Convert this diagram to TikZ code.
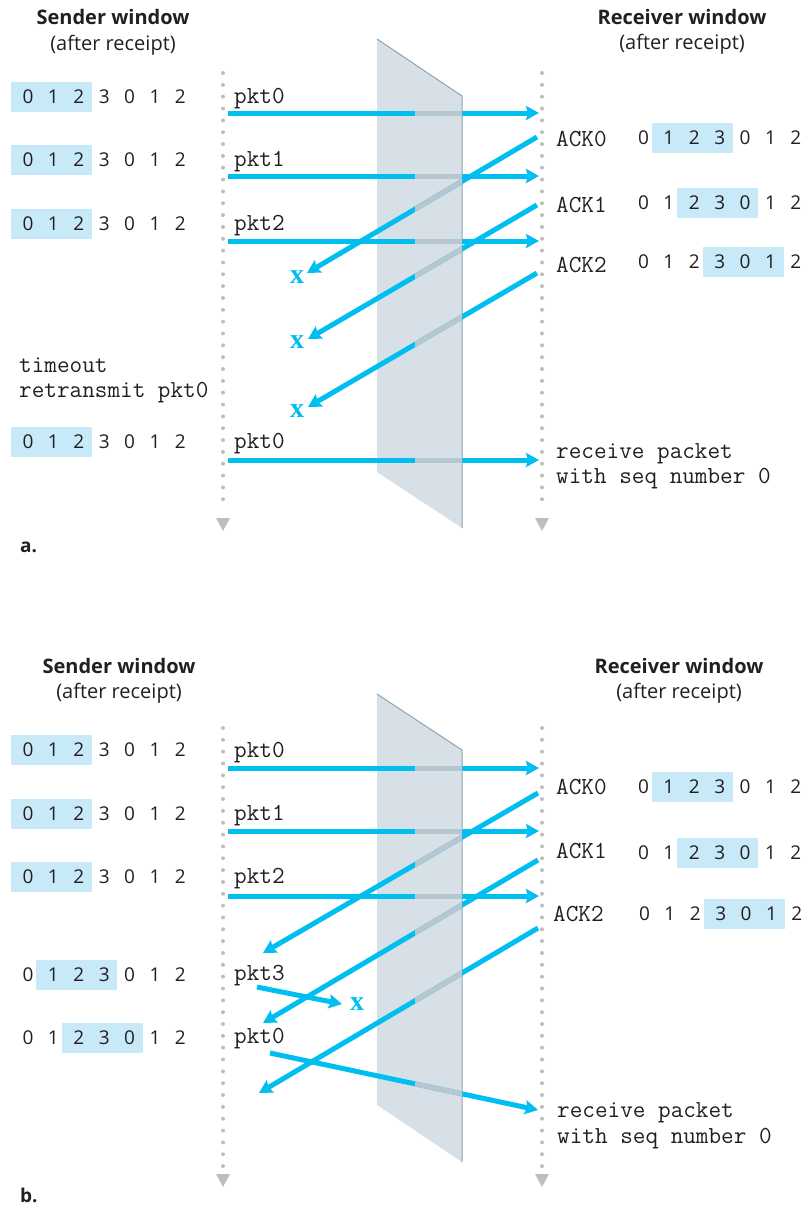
\documentclass[tikz,border=0pt]{standalone}
\usepackage{fontspec}
\setmainfont{Open Sans}
\newfontfamily\lostfont{Liberation Serif}
\usetikzlibrary{arrows.meta}

\definecolor{pktblue}{RGB}{0,190,240}
\definecolor{winblue}{RGB}{200,233,248}
\definecolor{slabfill}{RGB}{216,224,231}
\definecolor{slabedge}{RGB}{140,165,180}
\definecolor{slabline}{RGB}{183,199,207}
\definecolor{lifegray}{RGB}{190,190,190}
\definecolor{ink}{RGB}{35,31,32}

\tikzset{
  msg/.style={draw=pktblue, line width=5pt, -{Stealth[length=13pt,width=14pt,inset=2pt]}},
  msgslab/.style={draw=slabline, line width=5pt},
  life/.style={draw=lifegray, line width=4pt, line cap=round, dash pattern=on 0pt off 11.84pt},
  code/.style={font=\ttfamily\fontsize{24.5}{26}\selectfont, text=ink, inner sep=0pt, anchor=base west},
  digit/.style={font=\fontsize{19}{19}\selectfont, text=ink, inner sep=0pt, anchor=base},
  head/.style={font=\bfseries\fontsize{20}{24}\selectfont, text=ink, inner sep=0pt, anchor=base},
  sub/.style={font=\fontsize{20}{24}\selectfont, text=ink, inner sep=0pt, anchor=base},
  lost/.style={font=\lostfont\bfseries\fontsize{28}{28}\selectfont, text=pktblue, inner sep=0pt, anchor=base},
  tag/.style={font=\bfseries\fontsize{19}{19}\selectfont, text=ink, inner sep=0pt, anchor=base west}
}

% window of seven numbers, three of them shaded
\newcommand\winrow[4]{%
  \fill[winblue] ({#1+(#3)*25.4-17},{#2-15}) rectangle ++(81,30);
  \foreach \d [count=\i from 0] in {0,1,2,3,0,1,2}
    \node[digit] (#4-\i) at ({#1+\i*25.4},{#2+6.5}) {\d};
}
% message with the part that runs through the channel
\newcommand\sendmsg[2]{%
  \draw[msg] (#1) -- (#2);
  \begin{scope}
    \clip (415,0) rectangle (462,1213);
    \draw[msgslab] (#1) -- (#2);
  \end{scope}
}
% dotted time line of one side
\newcommand\lifeline[4]{%
  \coordinate (#4 top) at (#1,#2);
  \coordinate (#4 bot) at (#1,#3);
  \draw[life] (#4 top) -- (#4 bot);
  \fill[lifegray] ({#1-7},{#3+7}) -- ({#1+7},{#3+7}) -- (#1,{#3+20}) -- cycle;
}

\begin{document}
\begin{tikzpicture}[x=1pt, y=-1pt]
    \useasboundingbox (0,0) rectangle (807,1213);

    % a. panel
    \fill[slabfill] (377,39) -- (462,96) -- (462,528) -- (377,472) -- cycle;
    \draw[slabedge, line width=1pt] (377,39) -- (462,96) -- (462,528);
    \lifeline{223}{73}{511}{sa}
    \lifeline{542}{73}{511}{ra}

    \node[head] (sw a) at (113,24) {Sender window};
    \node[sub] (ss a) at (113,50) {(after receipt)};
    \node[head] (rw a) at (682,24) {Receiver window};
    \node[sub] (rs a) at (682,49) {(after receipt)};

    \winrow{28}{97}{0}{sa1}
    \winrow{28}{160}{0}{sa2}
    \winrow{28}{224}{0}{sa3}
    \winrow{28}{442}{0}{sa4}
    \winrow{643.5}{138}{1}{ra1}
    \winrow{643.5}{203}{2}{ra2}
    \winrow{643.5}{262}{3}{ra3}

    \node[code] (pa0) at (234,103) {pkt0};
    \node[code] (pa1) at (234,166) {pkt1};
    \node[code] (pa2) at (234,230) {pkt2};
    \node[code] (pa3) at (234,448) {pkt0};
    \node[code] (to a) at (19,372) {timeout};
    \node[code] (rt a) at (19,397) {retransmit pkt0};
    \node[code] (ka0) at (556,146) {ACK0};
    \node[code] (ka1) at (556,212) {ACK1};
    \node[code] (ka2) at (556,272) {ACK2};
    \node[code] (rp a) at (556,458) {receive packet};
    \node[code] (sq a) at (556,483) {with seq number 0};

    \coordinate (pa0 s) at (228,113); \coordinate (pa0 e) at (539,113);
    \coordinate (pa1 s) at (228,176); \coordinate (pa1 e) at (539,176);
    \coordinate (pa2 s) at (228,241); \coordinate (pa2 e) at (539,241);
    \coordinate (pa3 s) at (228,460); \coordinate (pa3 e) at (539,460);
    \coordinate (ka0 s) at (537,137); \coordinate (ka0 e) at (307,273);
    \coordinate (ka1 s) at (537,205); \coordinate (ka1 e) at (308,339);
    \coordinate (ka2 s) at (537,273); \coordinate (ka2 e) at (308,407);
    \sendmsg{pa0 s}{pa0 e}
    \sendmsg{pa1 s}{pa1 e}
    \sendmsg{pa2 s}{pa2 e}
    \sendmsg{pa3 s}{pa3 e}
    \sendmsg{ka0 s}{ka0 e}
    \sendmsg{ka1 s}{ka1 e}
    \sendmsg{ka2 s}{ka2 e}
    \node[lost] (xa0) at (297,283) {x};
    \node[lost] (xa1) at (297,348) {x};
    \node[lost] (xa2) at (297,417) {x};

    \node[tag] (tag a) at (20,552) {a.};

    % b. panel
    \fill[slabfill] (377,694) -- (462,750) -- (462,1162) -- (377,1105) -- cycle;
    \draw[slabedge, line width=1pt] (377,694) -- (462,750) -- (462,1162);
    \lifeline{223}{728}{1167}{sb}
    \lifeline{542}{728}{1167}{rb}

    \node[head] (sw b) at (119,673) {Sender window};
    \node[sub] (ss b) at (119,698) {(after receipt)};
    \node[head] (rw b) at (679,673) {Receiver window};
    \node[sub] (rs b) at (679,698) {(after receipt)};

    \winrow{28}{750}{0}{sb1}
    \winrow{28}{814}{0}{sb2}
    \winrow{28}{877}{0}{sb3}
    \winrow{28}{975}{1}{sb4}
    \winrow{28}{1038}{2}{sb5}
    \winrow{643.5}{787}{1}{rb1}
    \winrow{643.5}{853}{2}{rb2}
    \winrow{644.5}{914}{3}{rb3}

    \node[code] (pb0) at (234,757) {pkt0};
    \node[code] (pb1) at (234,820) {pkt1};
    \node[code] (pb2) at (234,883) {pkt2};
    \node[code] (pb3) at (234,980) {pkt3};
    \node[code] (pb4) at (234,1043) {pkt0};
    \node[code] (kb0) at (556,794) {ACK0};
    \node[code] (kb1) at (556,858) {ACK1};
    \node[code] (kb2) at (553,921) {ACK2};
    \node[code] (rp b) at (557,1117) {receive packet};
    \node[code] (sq b) at (557,1143) {with seq number 0};

    \coordinate (pb0 s) at (228,768); \coordinate (pb0 e) at (539,768);
    \coordinate (pb1 s) at (228,831); \coordinate (pb1 e) at (539,831);
    \coordinate (pb2 s) at (228,896); \coordinate (pb2 e) at (539,896);
    \coordinate (pb3 s) at (257,987); \coordinate (pb3 e) at (342,1004);
    \coordinate (pb4 s) at (270,1053); \coordinate (pb4 e) at (538,1110);
    \coordinate (kb0 s) at (538,793); \coordinate (kb0 e) at (263,953);
    \coordinate (kb1 s) at (538,860); \coordinate (kb1 e) at (263,1023);
    \coordinate (kb2 s) at (538,928); \coordinate (kb2 e) at (259,1093);
    \sendmsg{pb0 s}{pb0 e}
    \sendmsg{pb1 s}{pb1 e}
    \sendmsg{pb2 s}{pb2 e}
    \sendmsg{pb3 s}{pb3 e}
    \sendmsg{pb4 s}{pb4 e}
    \sendmsg{kb0 s}{kb0 e}
    \sendmsg{kb1 s}{kb1 e}
    \sendmsg{kb2 s}{kb2 e}
    \node[lost] (xb0) at (357,1010) {x};

    \node[tag] (tag b) at (20,1202) {b.};
\end{tikzpicture}
\end{document}
